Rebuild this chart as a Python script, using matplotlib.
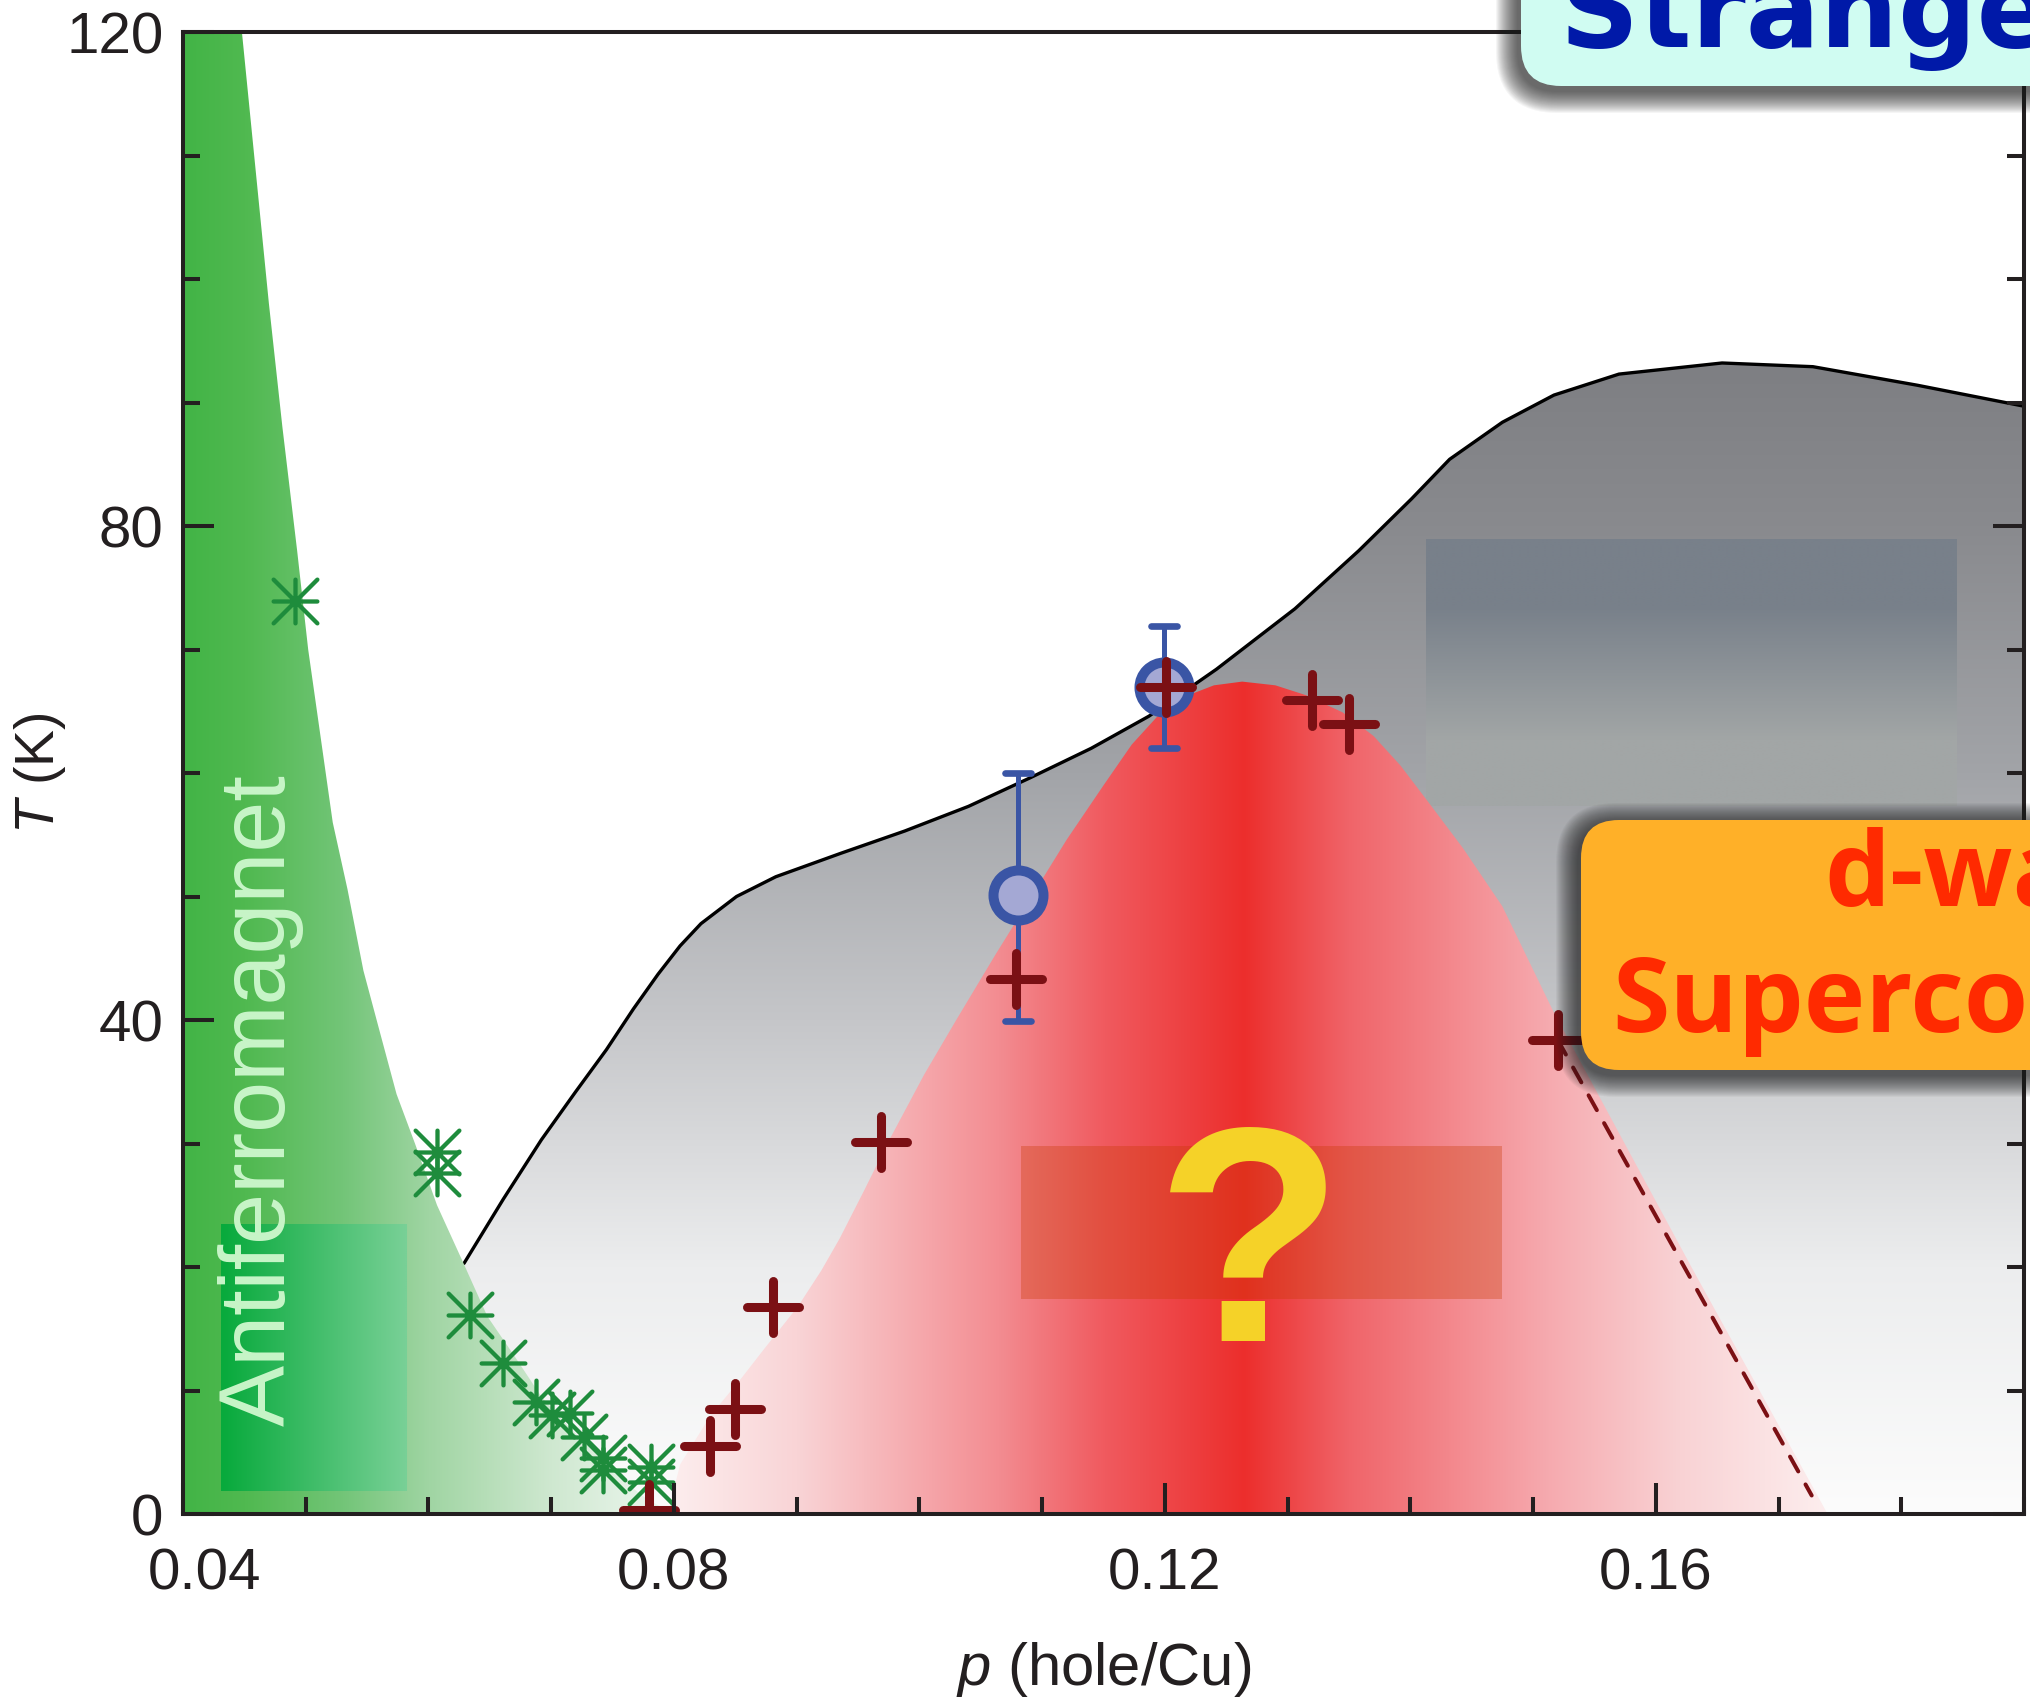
import numpy as np
import matplotlib
matplotlib.use('Agg')
import matplotlib.pyplot as plt
from matplotlib.patches import Polygon, Rectangle, FancyBboxPatch
from matplotlib.path import Path
from matplotlib.markers import MarkerStyle
from matplotlib.transforms import ScaledTranslation

plt.rcParams['font.family'] = 'Liberation Sans'
plt.rcParams['mathtext.fontset'] = 'custom'
plt.rcParams['mathtext.it'] = 'Liberation Sans:italic'
plt.rcParams['mathtext.rm'] = 'Liberation Sans'

## -- phase boundaries
afm_p = [0.0448, 0.0458, 0.0470, 0.0481, 0.0493, 0.0502, 0.0512, 0.0522, 0.0534, 0.0547, 0.0561, 0.0574,
         0.0589, 0.0607, 0.0629, 0.0648, 0.0670, 0.0692, 0.0715, 0.0735, 0.0755, 0.0778, 0.0800]
afm_T = [120, 110, 98, 88, 78, 70, 63, 56, 50.6, 44, 38.8, 34,
         30, 25, 20.2, 16, 12.8, 9.5, 7, 5, 3, 1.2, 0]

pg_p = [0.0629, 0.0661, 0.0692, 0.0720, 0.0745, 0.0767, 0.0787, 0.0805, 0.0822, 0.0851, 0.0883, 0.0936,
        0.0988, 0.1040, 0.1090, 0.1140, 0.1187, 0.1242, 0.1306, 0.1358, 0.1401, 0.1432, 0.1475, 0.1517,
        0.1570, 0.1654, 0.1728, 0.1813, 0.1900]
pg_T = [20.3, 25.5, 30.3, 34.2, 37.6, 40.9, 43.7, 46.0, 47.8, 50.0, 51.6, 53.5,
        55.3, 57.3, 59.6, 62.0, 64.6, 68.4, 73.3, 78.0, 82.2, 85.4, 88.4, 90.6,
        92.3, 93.2, 92.9, 91.4, 89.7]

sc_p = [0.0795, 0.0805, 0.0830, 0.0855, 0.0873, 0.0901, 0.0920, 0.0935, 0.0955, 0.0975, 0.1004, 0.1030,
        0.1062, 0.1092, 0.1120, 0.1150, 0.1173, 0.1195, 0.1214, 0.1240, 0.1263, 0.1290, 0.1315, 0.1345,
        0.1370, 0.1392, 0.1415, 0.1443, 0.1475, 0.1517, 0.1629, 0.1740]
sc_T = [0, 4, 8, 11, 13.3, 16.8, 19.7, 22.3, 26.2, 30.2, 35.6, 40.0,
        45.3, 50.1, 54.6, 59.0, 62.3, 64.7, 66.1, 67.1, 67.4, 67.1, 66.3, 64.9,
        63.0, 60.6, 57.6, 53.9, 49.2, 40.6, 20, 0]

## -- measured points
neel_p = [0.0491, 0.0607, 0.0607, 0.0634, 0.0661, 0.0688, 0.0701, 0.0715, 0.0727, 0.0742, 0.0742, 0.0781, 0.0781]
neel_T = [73.9, 29.3, 27.6, 16.1, 12.2, 9.1, 8.0, 8.2, 6.2, 4.5, 3.6, 3.8, 2.6]

tc_p = [0.0780, 0.0829, 0.0850, 0.0881, 0.0969, 0.1079, 0.1201, 0.1320, 0.1350, 0.1520]
tc_T = [0.3, 5.5, 8.5, 16.8, 30.1, 43.3, 67.0, 65.9, 64.0, 38.4]
tc_ext_p = [0.1520, 0.1727]
tc_ext_T = [38.4, 1.5]

cdw_p = [0.1080, 0.1199]
cdw_T = [50.1, 67.0]
cdw_err_lo = [10.2, 5.0]
cdw_err_hi = [9.9, 4.9]

xticks = [0.04, 0.08, 0.12, 0.16]
xticklabels = ['0.04', '0.08', '0.12', '0.16']
yticks = [0, 40, 80, 120]
yticklabels = ['0', '40', '80', '120']

## -- colour stops of the shaded regions
afm_grad_p = [0.040, 0.045, 0.053, 0.060, 0.070, 0.080]
afm_grad_rgb = [(66, 180, 70), (80, 185, 80), (115, 197, 120), (160, 213, 163), (207, 232, 208), (240, 248, 242)]
sc_grad_p = [0.078, 0.090, 0.1065, 0.1151, 0.1265, 0.135, 0.1513, 0.162, 0.176]
sc_grad_rgb = [(253, 242, 242), (249, 212, 214), (243, 140, 145), (240, 90, 95), (236, 46, 44),
               (240, 100, 105), (246, 170, 175), (249, 210, 212), (253, 242, 242)]
pg_grad_T = [0, 20, 40, 60, 80, 95]
pg_grad_rgb = [(252, 252, 252), (236, 237, 238), (197, 198, 201), (162, 164, 168), (137, 138, 142), (124, 125, 129)]

XMIN, XMAX, YMIN, YMAX = 0.04, 0.19, 0, 120

fig = plt.figure(figsize=(20.31, 17), dpi=100)
ax = fig.add_axes([183 / 2031, 186 / 1700, 1841 / 2031, 1482 / 1700])


def grad_img(stops, rgb, n=800, lo=XMIN, hi=XMAX):
	xs = np.linspace(lo, hi, n)
	return np.stack([np.interp(xs, stops, [c[i] for c in rgb]) for i in range(3)], axis=-1) / 255.0


def clipped(img, verts, z):
	im = ax.imshow(img, extent=[XMIN, XMAX, YMIN, YMAX], aspect='auto', origin='lower',
	               interpolation='bilinear', zorder=z)
	poly = Polygon(verts, closed=True, transform=ax.transData, facecolor='none', edgecolor='none')
	im.set_clip_path(poly)
	return im


# pseudogap (grey) region
pg_verts = list(zip(pg_p, pg_T)) + [(XMAX, 0), (pg_p[0], 0)]
clipped(grad_img(pg_grad_T, pg_grad_rgb, lo=YMIN, hi=YMAX)[:, None, :], pg_verts, 1)

# grey box inside
gb = np.array([[(162, 166, 166)], [(120, 128, 138)]]) / 255.0
ax.imshow(gb, extent=[0.1413, 0.1845, 57.3, 78.9], aspect='auto', origin='lower',
          interpolation='bilinear', zorder=1.5)

# superconducting dome
sc_verts = list(zip(sc_p, sc_T))
clipped(grad_img(sc_grad_p, sc_grad_rgb)[None, :, :], sc_verts, 2)

ax.plot(pg_p, pg_T, color='black', lw=2.4, zorder=2.5, solid_capstyle='round', solid_joinstyle='round')

# antiferromagnet
afm_verts = [(XMIN, 0), (XMIN, YMAX)] + list(zip(afm_p, afm_T))
clipped(grad_img(afm_grad_p, afm_grad_rgb)[None, :, :], afm_verts, 3)

afm_box = grad_img([0.0431, 0.0582], [(8, 170, 60), (120, 208, 150)], n=50, lo=0.0431, hi=0.0582)
ax.imshow(afm_box[None, :, :], extent=[0.0431, 0.0582, 1.9, 23.5], aspect='auto', origin='lower',
          interpolation='bilinear', zorder=3.5)
ax.text(0.0483, 7.1, 'Antiferromagnet', rotation=90, rotation_mode='anchor', ha='left', va='baseline',
        fontsize=66, color='#c8f5c8', zorder=4)

# question box
ax.add_patch(Rectangle((0.1083, 17.4), 0.1475 - 0.1083, 29.8 - 17.4, facecolor=(0.78, 0.22, 0.0),
                       alpha=0.32, edgecolor='none', zorder=3))
ax.text(0.1269, 14.0, '?', ha='center', va='baseline', fontsize=221, fontweight='bold',
        color='#f5d228', zorder=4)

# data
red = '#7b1014'
ax.plot(tc_ext_p, tc_ext_T, color=red, lw=2.9, ls=(0, (4.2, 3.7)), dash_capstyle='round', zorder=4)

ast = Path([(-1, 0), (1, 0), (0, -1), (0, 1), (-1, -1), (1, 1), (-1, 1), (1, -1)],
           [Path.MOVETO, Path.LINETO] * 4)
ax.plot(neel_p, neel_T, ls='none', marker=MarkerStyle(ast, capstyle='round'), ms=31.5, mew=3.1,
        mec='#1e8c3c', mfc='none', zorder=5)

blue = '#3a55a5'
eb = ax.errorbar(cdw_p, cdw_T, yerr=[cdw_err_lo, cdw_err_hi], fmt='none', ecolor=blue, elinewidth=3.6,
                 capsize=9.5, capthick=4.8, zorder=5)
for cl in eb[1]:
	cl.set_marker(MarkerStyle('_', capstyle='round'))
ax.plot(cdw_p, cdw_T, ls='none', marker='o', ms=36, mew=7.2, mec=blue, mfc='#a4a8d4', zorder=6)
ax.plot(tc_p, tc_T, ls='none', marker=MarkerStyle('+', capstyle='round'), ms=37, mew=6.5, mec=red, zorder=7)

ax.set_xlim(XMIN, XMAX)
ax.set_ylim(YMIN, YMAX)
ax.set_xticks(xticks)
ax.set_xticklabels(xticklabels)
ax.set_xticks(np.arange(0.05, 0.19, 0.01), minor=True)
ax.set_yticks(yticks)
ax.set_yticklabels(yticklabels)
ax.set_yticks(np.arange(10, 120, 10), minor=True)
ax.tick_params(which='both', direction='in', top=False, right=True, width=2.9, color='#231f20',
               labelsize=42, labelcolor='#231f20')
ax.tick_params(which='major', length=22)
ax.tick_params(which='minor', length=12)
ax.tick_params(axis='x', pad=24)
ax.tick_params(axis='y', pad=14)
ax.xaxis.set_zorder(9)
ax.yaxis.set_zorder(9)
for s in ax.spines.values():
	s.set_linewidth(2.9)
	s.set_color('#231f20')
	s.set_zorder(9)
# first x label sits a little right of its tick, clear of the "0"
lbl0 = ax.get_xticklabels()[0]
lbl0.set_transform(lbl0.get_transform() + ScaledTranslation(0.22, 0, fig.dpi_scale_trans))
ax.set_xlabel('$p$ (hole/Cu)', fontsize=43, color='#231f20', labelpad=28)
ax.set_ylabel('$T$ (K)', fontsize=40, color='#231f20', labelpad=-1.5)

## ------------ label boxes (pixel coordinates, y from the top) ------------
ov = fig.add_axes([0, 0, 1, 1], zorder=10)
ov.set_xlim(0, 2031)
ov.set_ylim(1700, 0)
ov.axis('off')


def rbox(x0, y0, x1, y1, r, color):
	for i in range(22):
		g = 22 - i
		ov.add_patch(FancyBboxPatch((x0 - g - 3, y0 - g + 5), x1 - x0 + 2 * g, y1 - y0 + 2 * g,
		                            boxstyle='round,pad=0,rounding_size=%g' % (r + g),
		                            facecolor='#1a1a1a', edgecolor='none', alpha=0.045))
	ov.add_patch(FancyBboxPatch((x0, y0), x1 - x0, y1 - y0, boxstyle='round,pad=0,rounding_size=%g' % r,
	                            facecolor=color, edgecolor='none'))


rbox(1521, -300, 2400, 86, 40, '#d0fcf2')
ov.text(1560, 47, 'Strange metal', ha='left', va='baseline', fontsize=79, fontweight='bold',
        family='DejaVu Sans', color='#0019a8')

rbox(1581, 820, 2400, 1070, 38, '#ffb028')
ov.text(1824, 906, 'd-wave', ha='left', va='baseline', fontsize=75, fontweight='bold',
        family='Open Sans', color='#ff2a00')
ov.text(1612, 1032, 'Superconductor', ha='left', va='baseline', fontsize=75, fontweight='bold',
        family='Open Sans', color='#ff2a00')

plt.savefig('out.png', dpi=100)
